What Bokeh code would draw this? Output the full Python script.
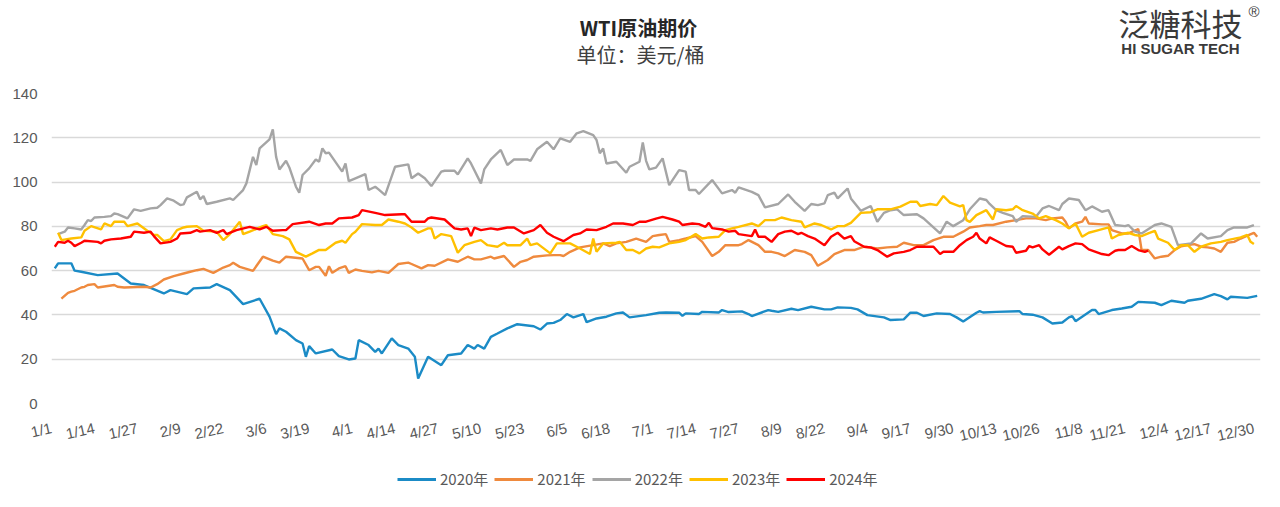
from bokeh.plotting import figure
from bokeh.layouts import column
from bokeh.models import (Range1d, FixedTicker, Legend, LegendItem, ColumnDataSource)
from bokeh.core.properties import value
from bokeh.embed import file_html
from bokeh.resources import INLINE

# ---- data (day index: 0 = 1/1, leap-year calendar) ----
tick_days = list(range(0, 365, 13))
tick_labels = ["1/1", "1/14", "1/27", "2/9", "2/22", "3/6", "3/19", "4/1", "4/14", "4/27",
               "5/10", "5/23", "6/5", "6/18", "7/1", "7/14", "7/27", "8/9", "8/22", "9/4",
               "9/17", "9/30", "10/13", "10/26", "11/8", "11/21", "12/4", "12/17", "12/30"]
y_ticks = [0, 20, 40, 60, 80, 100, 120, 140]

d2020 = [1, 2, 6, 7, 9, 14, 20, 24, 28, 34, 36, 41, 43, 48, 50, 54, 58, 63, 66, 68, 69, 71, 74, 76, 77, 78, 80, 85, 87, 90,
         92, 93, 96, 98, 99, 100, 103, 105, 108, 110, 111, 114, 118, 120, 124, 126, 128, 129, 131, 133, 135, 138, 141, 146,
         148, 150, 152, 154, 156, 158, 161, 162, 165, 168, 171, 173, 175, 180, 184, 186, 190, 191, 192, 196, 197, 202, 203,
         205, 209, 211, 212, 217, 218, 220, 224, 226, 230, 234, 236, 238, 242, 244, 247, 252, 254, 258, 260, 262, 264, 268,
         272, 274, 276, 280, 281, 282, 286, 293, 294, 297, 300, 303, 306, 308, 309, 310, 315, 316, 317, 321, 324, 327, 329,
         334, 336, 339, 343, 344, 348, 352, 354, 356, 357, 362, 365]
v2020 = [61.0, 63.3, 63.3, 60.0, 59.5, 58.0, 58.7, 54.2, 53.5, 49.7, 51.2, 49.4, 52.0, 52.4, 53.9, 51.2, 44.9, 47.3, 39.2,
         31.3, 33.9, 32.4, 28.6, 27.1, 21.1, 25.9, 22.6, 24.4, 21.4, 19.9,
         20.3, 28.6, 26.4, 23.3, 24.8, 22.6, 29.4, 26.4, 24.8, 21.1, 11.3, 21.1, 17.3, 21.8, 22.6, 26.4, 24.8, 26.4, 24.8,
         30.1, 31.6, 33.9, 35.8, 34.9, 33.4, 36.1, 36.4, 37.7, 40.4, 38.9, 40.4, 36.7, 38.4, 39.2, 40.7, 41.1, 38.9, 39.9,
         41.0, 41.1, 41.0, 39.6, 40.7, 40.4, 41.4, 41.1, 42.2, 41.3, 41.6, 40.4, 39.5, 42.2, 41.9, 41.4, 42.8, 42.2, 43.7,
         42.5, 42.5, 43.4, 43.2, 42.5, 39.9, 38.9, 37.7, 38.0, 41.0, 41.0, 39.5, 40.7, 40.4, 38.9, 37.0, 41.0, 41.7, 41.1,
         41.4, 41.7, 40.4, 40.1, 38.9, 36.1, 36.6, 38.9, 39.5, 37.2, 42.2, 42.2, 40.4, 42.2, 42.9, 43.7, 45.9, 45.5, 44.4,
         46.4, 45.5, 46.4, 47.3, 49.4, 48.5, 47.0, 48.2, 47.7, 48.6]

d2021 = [3, 5, 6, 7, 9, 10, 11, 13, 14, 19, 20, 22, 28, 30, 32, 34, 37, 40, 42, 44, 46, 49, 52, 54, 55, 57, 61, 64, 67, 69,
         71, 76, 78, 80, 81, 83, 84, 85, 87, 89, 90, 92, 94, 97, 99, 102, 105, 108, 109, 112, 114, 116, 120, 123, 126, 128,
         130, 133, 134, 137, 140, 142, 144, 146, 150, 152, 154, 155, 157, 160, 164, 167, 169, 171, 174, 177, 180, 182, 184,
         186, 187, 190, 192, 195, 197, 200, 202, 204, 208, 209, 211, 214, 216, 218, 220, 222, 225, 228, 230, 232, 235, 237,
         240, 243, 246, 250, 253, 256, 258, 261, 264, 267, 270, 273, 276, 278, 281, 283, 285, 289, 292, 295, 298, 301, 303,
         306, 307, 308, 310, 312, 313, 314, 318, 320, 321, 324, 326, 329, 330, 332, 334, 336, 338, 340, 342, 344, 346, 348,
         350, 352, 354, 356, 358, 360, 362, 364, 365]
v2021 = [47.4, 50.0, 50.5, 50.9, 52.4, 52.7, 53.5, 53.9, 52.4, 53.5, 52.7, 52.4, 52.7, 52.4, 53.9, 56.0, 57.5, 58.7, 59.5,
         60.2, 60.8, 59.0, 61.4, 62.5, 63.6, 61.7, 59.9, 66.3, 64.5, 63.6, 66.3, 65.5, 60.2, 61.7, 61.7, 57.7, 62.0, 59.0,
         61.0, 62.0, 59.0, 60.5, 59.9, 59.2, 59.9, 59.0, 63.0, 63.6, 63.0, 61.0, 62.5, 62.2, 65.1, 64.0, 66.3, 65.1, 65.1,
         66.3, 65.5, 66.6, 61.7, 64.0, 64.8, 66.3, 66.9, 67.0, 67.0, 66.6, 68.5, 70.5, 71.5, 72.3, 71.1, 72.3, 73.0, 74.5,
         73.0, 75.6, 76.1, 76.5, 73.0, 73.8, 74.5, 75.6, 73.0, 66.6, 68.5, 71.5, 71.5, 72.0, 73.8, 71.5, 68.5, 68.5, 67.8,
         66.6, 69.3, 68.5, 67.0, 62.2, 64.8, 67.5, 69.3, 69.3, 70.8, 70.0, 70.5, 70.8, 72.6, 71.5, 71.5, 73.8, 75.3, 75.3,
         77.6, 79.5, 80.1, 80.6, 80.6, 82.1, 82.8, 83.6, 83.6, 82.8, 83.6, 84.0, 82.1, 79.1, 81.3, 82.1, 84.3, 81.3, 80.9,
         80.9, 78.3, 76.8, 76.8, 78.8, 69.3, 69.3, 65.5, 66.3, 66.7, 69.3, 71.0, 71.5, 72.0, 70.8, 70.5, 70.0, 68.5, 72.6,
         73.0, 74.5, 75.8, 77.1, 75.3]

d2022 = [2, 4, 5, 7, 9, 10, 11, 12, 13, 16, 18, 19, 20, 23, 25, 27, 30, 32, 33, 35, 37, 39, 40, 41, 44, 45, 46, 47, 50, 54,
         55, 58, 59, 61, 62, 63, 66, 67, 68, 69, 71, 72, 74, 75, 76, 78, 80, 81, 82, 83, 84, 88, 89, 90, 92, 95, 96, 98, 99,
         101, 104, 108, 109, 111, 113, 115, 118, 119, 122, 123, 126, 127, 130, 131, 133, 136, 138, 140, 144, 145, 147, 150,
         152, 154, 157, 159, 161, 164, 165, 166, 167, 168, 171, 174, 175, 178, 179, 180, 181, 183, 185, 187, 190, 192, 193,
         195, 196, 200, 203, 206, 207, 208, 212, 214, 216, 220, 223, 225, 228, 230, 232, 234, 235, 237, 238, 241, 242, 245,
         248, 250, 252, 254, 256, 258, 262, 264, 267, 269, 271, 273, 276, 278, 281, 283, 284, 286, 288, 291, 292, 294, 298,
         300, 302, 305, 306, 308, 311, 313, 315, 318, 320, 322, 325, 326, 328, 330, 334, 336, 339, 341, 345, 348, 350, 354,
         356, 358, 362, 364]
v2022 = [76.5, 77.6, 79.5, 79.1, 78.6, 80.6, 82.8, 82.4, 84.0, 84.3, 84.6, 85.8, 85.5, 83.6, 87.7, 87.0, 88.1, 88.4, 89.6,
         92.6, 91.6, 89.6, 89.9, 93.1, 95.6, 92.2, 93.7, 90.1, 91.1, 92.6, 91.9, 96.4, 99.4, 111.4, 107.7, 115.2, 119.3,
         123.8, 111.4, 105.7, 109.6, 106.6, 97.9, 95.2, 103.2, 106.2, 110.2, 109.2, 115.2, 113.0, 113.3, 104.7, 108.4, 100.4,
         101.7, 103.6, 96.4, 97.9, 96.7, 94.1, 106.9, 108.0, 101.7, 103.9, 101.7, 98.2, 104.7, 105.1, 105.1, 103.5, 110.7,
         108.4, 99.4, 105.7, 110.2, 114.5, 107.7, 110.2, 110.2, 109.6, 114.8, 118.2, 114.8, 119.7, 118.2, 122.0, 123.0,
         121.2, 119.0, 113.0, 115.2, 108.4, 109.2, 104.2, 106.9, 109.2, 117.9, 109.6, 105.7, 106.5, 110.7, 98.6, 105.4,
         104.7, 96.4, 96.4, 94.6, 100.9, 94.9, 96.4, 95.2, 97.6, 95.6, 94.1, 88.6, 90.1, 94.4, 91.1, 87.0, 90.1, 89.6, 90.4,
         94.1, 95.2, 92.6, 97.1, 92.6, 87.0, 89.2, 82.1, 86.1, 87.3, 87.7, 85.1, 85.5, 83.6, 79.5, 76.8, 82.1, 80.1, 82.8,
         87.7, 92.6, 91.9, 90.1, 87.3, 86.1, 84.6, 82.1, 84.6, 84.3, 88.1, 89.2, 87.3, 90.1, 92.6, 91.9, 87.3, 89.0, 86.6,
         87.3, 80.6, 80.1, 80.6, 77.6, 76.8, 80.6, 81.3, 79.8, 71.5, 72.3, 76.8, 74.5, 75.6, 78.3, 79.5, 79.5, 80.6]

d2023 = [2, 3, 6, 9, 10, 12, 15, 16, 18, 19, 22, 23, 26, 29, 31, 32, 34, 36, 38, 40, 41, 44, 46, 50, 52, 54, 57, 58, 60, 64,
         65, 67, 70, 72, 74, 77, 79, 81, 83, 86, 88, 89, 91, 92, 94, 98, 100, 102, 105, 107, 109, 111, 114, 115, 116, 118,
         121, 123, 125, 128, 130, 132, 135, 137, 138, 142, 144, 145, 147, 151, 153, 157, 160, 163, 164, 165, 167, 171, 172,
         174, 176, 178, 180, 182, 184, 187, 190, 192, 195, 197, 199, 202, 204, 206, 208, 212, 214, 216, 219, 221, 224, 227,
         228, 231, 233, 236, 238, 240, 242, 245, 248, 250, 254, 257, 260, 262, 263, 266, 268, 270, 272, 275, 276, 277, 278,
         280, 283, 285, 286, 289, 291, 292, 294, 297, 299, 301, 304, 306, 308, 310, 312, 314, 317, 320, 321, 323, 326, 328,
         330, 332, 334, 335, 338, 340, 342, 344, 346, 348, 351, 354, 356, 360, 362, 363, 364]
v2023 = [77.1, 73.8, 74.5, 75.0, 78.0, 80.1, 78.6, 81.3, 80.1, 82.1, 82.1, 80.1, 81.3, 78.0, 76.1, 76.1, 73.3, 74.1, 78.3,
         79.5, 79.8, 80.1, 78.0, 77.6, 73.8, 76.5, 82.1, 76.5, 77.6, 80.1, 80.6, 76.5, 75.6, 74.1, 68.5, 66.3, 67.8, 69.4,
         69.3, 72.6, 73.5, 72.6, 76.5, 77.6, 81.0, 80.6, 80.6, 83.1, 82.1, 81.3, 79.5, 77.1, 79.1, 79.1, 74.5, 76.5, 75.6,
         68.1, 71.5, 73.0, 73.8, 71.5, 70.8, 72.6, 71.5, 71.5, 74.5, 71.5, 72.3, 67.8, 72.3, 72.3, 70.0, 67.5, 74.5, 68.5,
         72.3, 72.6, 73.0, 69.3, 69.3, 67.8, 70.0, 70.8, 70.5, 72.3, 73.0, 73.8, 76.5, 74.5, 75.0, 75.3, 78.3, 79.1, 79.8,
         81.3, 80.1, 82.8, 82.8, 84.0, 82.8, 82.1, 79.5, 81.3, 80.6, 78.6, 80.1, 80.1, 81.6, 86.1, 86.4, 87.7, 87.7, 88.9,
         91.1, 91.1, 89.2, 90.1, 89.6, 93.7, 90.7, 89.0, 89.6, 82.8, 82.0, 85.1, 87.3, 83.1, 87.7, 87.3, 87.7, 89.2, 87.3,
         85.8, 83.6, 84.6, 82.8, 81.3, 79.1, 81.3, 75.3, 77.1, 78.3, 79.5, 74.5, 76.1, 77.1, 76.1, 75.6, 76.8, 78.0, 74.5,
         72.6, 69.3, 71.5, 71.5, 68.5, 70.8, 72.3, 73.0, 73.8, 75.0, 76.1, 73.0, 72.0]

d2024 = [1, 2, 4, 5, 6, 7, 9, 10, 14, 15, 16, 18, 21, 24, 25, 28, 30, 31, 33, 36, 38, 39, 42, 44, 45, 48, 50, 52, 53, 56,
         60, 63, 65, 67, 70, 71, 73, 78, 81, 83, 85, 87, 91, 93, 94, 98, 101, 106, 107, 109, 113, 114, 115, 119, 122, 124,
         126, 127, 128, 130, 133, 135, 138, 140, 143, 146, 148, 150, 152, 155, 158, 160, 162, 165, 168, 170, 173, 176, 178,
         180, 183, 185, 188, 190, 191, 194, 196, 198, 199, 200, 203, 205, 207, 208, 212, 213, 214, 216, 218, 220, 222, 224,
         226, 227, 229, 231, 234, 236, 238, 240, 242, 243, 246, 248, 250, 253, 255, 258, 260, 262, 264, 267, 269, 270, 273,
         275, 277, 279, 280, 281, 283, 284, 286, 289, 291, 292, 295, 296, 297, 299, 300, 302, 305, 306, 308, 310, 312, 314,
         318, 320, 322, 323, 325, 327, 329, 331, 332]
v2024 = [70.8, 73.0, 72.6, 73.5, 72.6, 71.1, 72.6, 73.5, 73.0, 72.3, 73.5, 74.1, 74.5, 75.3, 77.6, 77.1, 77.6, 75.6, 72.3,
         73.0, 74.5, 76.8, 77.1, 78.3, 77.6, 78.3, 77.1, 78.3, 76.5, 78.3, 79.8, 78.6, 79.8, 78.0, 78.3, 78.3, 81.0, 82.1,
         80.6, 81.3, 81.3, 83.6, 84.0, 85.1, 87.3, 86.1, 85.1, 85.5, 85.5, 82.1, 82.1, 83.6, 84.0, 83.1, 79.1, 78.6, 79.1,
         75.6, 79.4, 78.3, 79.1, 78.6, 79.5, 79.5, 76.8, 78.3, 80.6, 77.1, 75.3, 73.3, 76.1, 76.8, 78.6, 78.3, 79.8, 81.3,
         81.3, 80.6, 82.1, 82.1, 83.5, 84.3, 83.1, 82.1, 80.6, 81.3, 81.0, 79.8, 81.6, 79.2, 78.6, 77.6, 78.0, 76.5, 75.6,
         78.6, 75.3, 75.3, 73.0, 76.5, 77.6, 78.0, 76.5, 77.1, 75.6, 74.5, 71.5, 75.3, 77.1, 74.5, 75.6, 73.3, 70.8, 70.5,
         69.3, 66.3, 67.8, 68.5, 69.3, 70.8, 70.8, 70.8, 67.5, 68.5, 68.5, 71.5, 73.8, 75.3, 77.1, 74.5, 72.3, 75.0, 73.5,
         71.1, 70.8, 68.1, 69.0, 71.1, 70.5, 71.5, 69.6, 67.2, 70.8, 69.6, 71.1, 72.3, 72.0, 69.6, 67.5, 67.0, 69.0, 69.3,
         69.3, 71.1, 69.3, 68.5, 69.0]

series_names = ["2020年", "2021年", "2022年", "2023年", "2024年"]
series_days = [d2020, d2021, d2022, d2023, d2024]
series_vals = [v2020, v2021, v2022, v2023, v2024]
series_colors = ["#1b8bc6", "#ef8a3e", "#a5a5a5", "#ffc000", "#ff0000"]

title_text = "WTI原油期价"
subtitle_text = "单位：美元/桶"
logo_cn = "泛糖科技"
logo_en = "HI SUGAR TECH"

W = 1272
HEAD_H = 85
MAIN_H = 370
FOOT_H = 44
FL, FR, FT, FB = 51, 12, 8, 52
FRAME_X0, FRAME_X1 = FL, W - FR   # frames are aligned across the column

def bare(fig):
    fig.grid.visible = False
    fig.outline_line_color = None
    fig.background_fill_color = "white"
    fig.border_fill_color = "white"

# ---- header (title, unit, logo); x range matches page pixels over the aligned frame ----
hdr = figure(width=W, height=HEAD_H, output_backend="svg", toolbar_location=None,
             x_range=Range1d(FRAME_X0, FRAME_X1), y_range=Range1d(HEAD_H, 0),
             x_axis_location=None, y_axis_location=None,
             min_border_left=FL, min_border_right=FR, min_border_top=0, min_border_bottom=0)
bare(hdr)

def htext(txt, x, y, size, color, font, style="normal", align="center"):
    hdr.text(x=[x], y=[y], text=[txt], text_font=value(font), text_font_size=value(size),
             text_color=color, text_font_style=style, text_align=align, text_baseline="middle")

htext(title_text, 638, 27, "20px", "#262626", "Noto Sans CJK SC", "bold")
htext(subtitle_text, 640, 54, "20px", "#404040", "Noto Sans CJK SC")
htext(logo_cn, 1180, 22, "31px", "#3a3a3a", "Noto Sans CJK SC")
htext(logo_en, 1180, 48, "15px", "#3a3a3a", "Liberation Sans", "bold")
htext("®", FRAME_X1 - 1, 11, "15px", "#3a3a3a", "Liberation Sans", align="right")

# ---- main chart ----
p = figure(width=W, height=MAIN_H, output_backend="svg", toolbar_location=None,
           x_range=Range1d(0, 366), y_range=Range1d(0, 140),
           min_border_left=FL, min_border_right=FR, min_border_top=FT, min_border_bottom=FB)
p.background_fill_color = "white"
p.border_fill_color = "white"
p.outline_line_color = None

p.xgrid.grid_line_color = None
p.ygrid.grid_line_color = "#d9d9d9"
p.ygrid.grid_line_width = 1.3
p.ygrid.ticker = FixedTicker(ticks=y_ticks)

p.yaxis.ticker = FixedTicker(ticks=y_ticks)
p.yaxis.axis_line_color = None
p.yaxis.major_tick_line_color = None
p.yaxis.minor_tick_line_color = None
p.yaxis.major_label_text_font = "Liberation Sans"
p.yaxis.major_label_text_font_size = "15px"
p.yaxis.major_label_text_color = "#595959"
p.yaxis.major_label_standoff = 8

p.xaxis.ticker = FixedTicker(ticks=tick_days)
p.xaxis.major_label_overrides = {d: lab for d, lab in zip(tick_days, tick_labels)}
p.xaxis.axis_line_color = None
p.xaxis.major_tick_line_color = None
p.xaxis.minor_tick_line_color = None
p.xaxis.major_label_orientation = 0.22
p.xaxis.major_label_text_font = "Liberation Sans"
p.xaxis.major_label_text_font_size = "15px"
p.xaxis.major_label_text_color = "#595959"
p.xaxis.major_label_standoff = 18

for ds, vs, col in zip(series_days, series_vals, series_colors):
    src = ColumnDataSource(dict(x=ds, y=vs))
    p.line("x", "y", source=src, line_color=col, line_width=2.4)

# ---- footer (legend); the same series drawn out of view serve as legend proxies ----
ftr = figure(width=W, height=FOOT_H, output_backend="svg", toolbar_location=None,
             x_range=Range1d(0, 366), y_range=Range1d(1000, 1001),
             x_axis_location=None, y_axis_location=None,
             min_border_left=FL, min_border_right=FR, min_border_top=0, min_border_bottom=0)
bare(ftr)
items = []
for name, ds, vs, col in zip(series_names, series_days, series_vals, series_colors):
    r = ftr.line(x=ds, y=vs, line_color=col, line_width=3)
    items.append(LegendItem(label=name, renderers=[r]))
legend = Legend(items=items, orientation="horizontal", location=(397 - FRAME_X0, 10),
                glyph_width=39, glyph_height=20, label_height=20, label_standoff=4, spacing=6,
                padding=0, margin=0, border_line_color=None, background_fill_alpha=0,
                label_text_font="Noto Sans CJK SC", label_text_font_size="15px",
                label_text_color="#595959")
ftr.add_layout(legend, "center")

layout = column(hdr, p, ftr, spacing=0)
open("out.html", "w").write(file_html(layout, INLINE))
